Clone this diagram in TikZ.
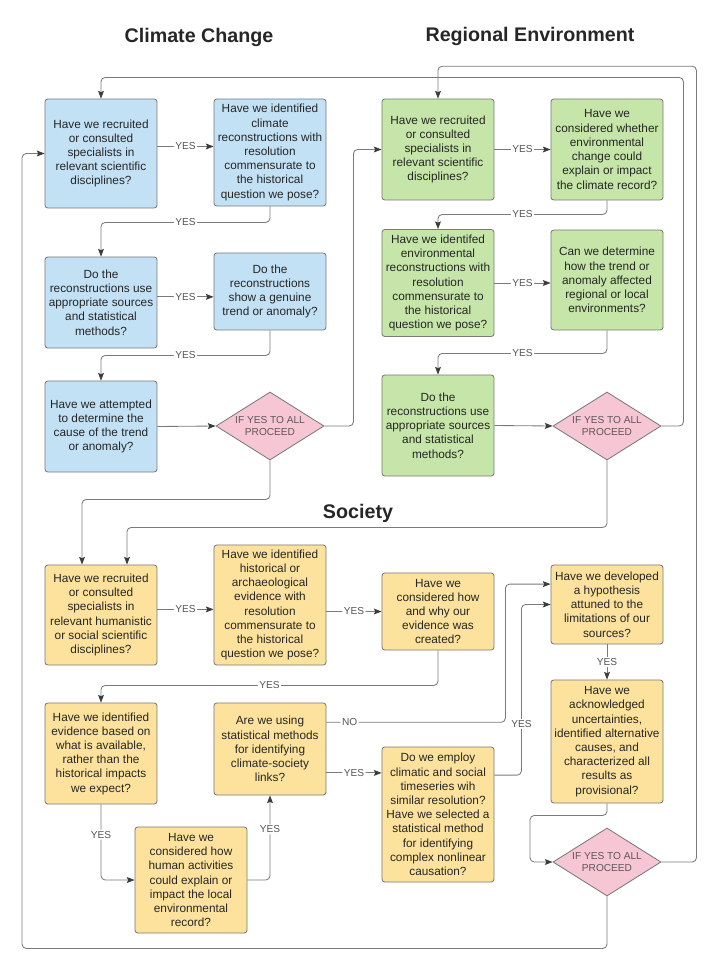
\documentclass[tikz,border=0pt]{standalone}
\usepackage{fontspec}
\setmainfont{Liberation Sans}
\usetikzlibrary{arrows.meta}
\usetikzlibrary{shapes.geometric}

\definecolor{ccblue}{HTML}{C3E1F5}
\definecolor{envgreen}{HTML}{C6E5A8}
\definecolor{socyellow}{HTML}{FCE29C}
\definecolor{gopink}{HTML}{F6C6D5}
\definecolor{edgegray}{HTML}{7A7A7A}
\definecolor{tipgray}{HTML}{3C3C3C}
\definecolor{inkgray}{HTML}{262626}
\definecolor{labgray}{HTML}{555555}
\definecolor{gatetxt}{HTML}{5F5558}

\tikzset{
  qbox/.style={draw=edgegray, line width=.6pt, rounded corners=2pt, minimum width=2.8cm, align=center, text=inkgray, inner sep=1pt, font=\fontsize{8.4}{10.1}\selectfont},
  qblue/.style={qbox, fill=ccblue},
  qgreen/.style={qbox, fill=envgreen},
  qyellow/.style={qbox, fill=socyellow},
  gatetext/.style={align=center, text=gatetxt, font=\fontsize{7.2}{8.6}\selectfont},
  gate/.style={diamond, draw=edgegray, line width=.6pt, fill=gopink, minimum width=2.7cm, minimum height=1.7cm, inner sep=0pt, label={[gatetext]center:{IF YES TO ALL\\PROCEED}}},
  flow/.style={draw=edgegray, line width=.6pt, rounded corners=3pt, ->, >={Stealth[length=5.5pt, width=4.2pt, inset=1pt, color=tipgray]}},
  yes/.style={fill=white, inner sep=1pt, text=labgray, font=\fontsize{7.2}{8}\selectfont},
  heading/.style={text=inkgray, font=\fontsize{14}{16}\bfseries\selectfont}
}

\begin{document}
\begin{tikzpicture}[x=0.025cm, y=-0.025cm]
\useasboundingbox (0,0) rectangle (720,972);

\node[heading] (tcc) at (199,37) {Climate Change};
\node[heading] (tre) at (530,36) {Regional Environment};
\node[heading] (tso) at (358,513) {Society};

\node[qblue, minimum height=2.725cm] (cc1) at (101,153.5) {Have we recruited\\or consulted\\specialists in\\relevant scientific\\disciplines?};
\node[qblue, minimum height=2.675cm] (cc2) at (270,152.5) {Have we identified\\climate\\reconstructions with\\resolution\\commensurate to\\the historical\\question we pose?};
\node[qblue, minimum height=2.275cm] (cc3) at (101,302.5) {Do the\\reconstructions use\\appropriate sources\\and statistical\\methods?};
\node[qblue, minimum height=1.925cm] (cc4) at (270,291.5) {Do the\\reconstructions\\show a genuine\\trend or anomaly?};
\node[qblue, minimum height=2.275cm] (cc5) at (101,426.5) {Have we attempted\\to determine the\\cause of the trend\\or anomaly?};
\node[gate] (d1) at (270,426) {};

\node[qgreen, minimum height=2.525cm] (re1) at (438,149.5) {Have we recruited\\or consulted\\specialists in\\relevant scientific\\disciplines?};
\node[qgreen, minimum height=2.525cm] (re2) at (607,149.5) {Have we\\considered whether\\environmental\\change could\\explain or impact\\the climate record?};
\node[qgreen, minimum height=2.675cm] (re3) at (438,283) {Have we identifed\\environmental\\reconstructions with\\resolution\\commensurate to\\the historical\\question we pose?};
\node[qgreen, minimum height=2.5cm] (re4) at (607,280) {Can we determine\\how the trend or\\anomaly affected\\regional or local\\environments?};
\node[qgreen, minimum height=2.525cm] (re5) at (438,425.5) {Do the\\reconstructions use\\appropriate sources\\and statistical\\methods?};
\node[gate] (d2) at (607,426) {};

\node[qyellow, minimum height=2.5cm] (s1) at (101,615) {Have we recruited\\or consulted\\specialists in\\relevant humanistic\\or social scientific\\disciplines?};
\node[qyellow, minimum height=3cm] (s2) at (270,605) {Have we identified\\historical or\\archaeological\\evidence with\\resolution\\commensurate to\\the historical\\question we pose?};
\node[qyellow, minimum height=1.925cm] (s3) at (438,611.5) {Have we\\considered how\\and why our\\evidence was\\created?};
\node[qyellow, minimum height=1.975cm] (s4) at (607,604.5) {Have we developed\\a hypothesis\\attuned to the\\limitations of our\\sources?};
\node[qyellow, minimum height=3.075cm] (s5) at (607,741.5) {Have we\\acknowledged\\uncertainties,\\identified alternative\\causes, and\\characterized all\\results as\\provisional?};
\node[qyellow, minimum height=2.525cm] (s6) at (101,753.5) {Have we identified\\evidence based on\\what is available,\\rather than the\\historical impacts\\we expect?};
\node[qyellow, minimum height=2.3cm] (s7) at (270,749) {Are we using\\statistical methods\\for identifying\\climate-society\\links?};
\node[qyellow, minimum height=3.375cm] (s8) at (438,814.5) {Do we employ\\climatic and social\\timeseries wih\\similar resolution?\\Have we selected a\\statistical method\\for identifying\\complex nonlinear\\causation?};
\node[qyellow, minimum height=2.65cm] (s9) at (191,880) {Have we\\considered how\\human activities\\could explain or\\impact the local\\environmental\\record?};
\node[gate] (d3) at (607,862) {};

\draw[flow] ([yshift=5pt]cc1.east) -- ([yshift=5pt]cc1.east -| cc2.west) node[yes, midway] {YES};
\draw[flow] (cc2.south) -- ++(0,16) -| (cc3.north) node[yes, pos=.25] {YES};
\draw[flow] ([yshift=4pt]cc3.east) -- ([yshift=4pt]cc3.east -| cc4.west) node[yes, midway] {YES};
\draw[flow] (cc4.south) -- ++(0,25) -| (cc5.north) node[yes, pos=.25] {YES};
\draw[flow] (cc5.east) -- (d1.west);
\draw[flow] (d1.east) -- ++(29,0) |- (re1.west);

\draw[flow] (re1.east) -- (re2.west) node[yes, midway] {YES};
\draw[flow] (re2.south) -- ++(0,14) -| (re3.north) node[yes, pos=.25] {YES};
\draw[flow] (re3.east) -- (re3.east -| re4.west) node[yes, midway] {YES};
\draw[flow] (re4.south) -- ++(0,23) -| (re5.north) node[yes, pos=.25] {YES};
\draw[flow] (re5.east) -- (d2.west);
\draw[flow] (d2.east) -- ++(22,0) |- ([yshift=15pt]cc1.north) -- (cc1.north);

\draw[flow] (d1.south) -- ++(0,39) -| ([xshift=-13.5pt]s1.north);
\draw[flow] (d2.south) -- ++(0,67) -| ([xshift=18.5pt]s1.north);

\draw[flow] ([yshift=4pt]s1.east) -- ([yshift=4pt]s1.east -| s2.west) node[yes, midway] {YES};
\draw[flow] (s3.west -| s2.east) -- (s3.west) node[yes, midway] {YES};
\draw[flow] (s3.south) -- ++(0,35) -| (s6.north) node[yes, pos=.25] {YES};
\draw[flow] (s6.south) |- (s9.west) node[yes, pos=.2] {YES};
\draw[flow] (s9.east) -| (s7.south) node[yes, pos=.8] {YES};
\draw[flow] ([yshift=19pt]s7.east) -- ++(179,0) node[yes, pos=.13] {NO} |- ([yshift=14.5pt]s4.west);
\draw[flow] ([yshift=-17pt]s7.east) -- ([yshift=-17pt]s7.east -| s8.west) node[yes, midway] {YES};
\draw[flow] ([yshift=28pt]s8.east) -- ++(27,0) |- (s4.west) node[yes, pos=.15] {YES};
\draw[flow] (s4.south) -- (s5.north) node[yes, midway] {YES};
\draw[flow] (s5.south) -- ++(0,12) -| ([xshift=-16pt]d3.west) -- (d3.west);

\draw[flow] (d3.east) -- ++(35,0) |- ([yshift=23pt]re1.north) -- (re1.north);
\draw[flow] (d3.south) -- ++(0,52) -| ([xshift=-16pt]cc1.west) -- (cc1.west);
\end{tikzpicture}
\end{document}
